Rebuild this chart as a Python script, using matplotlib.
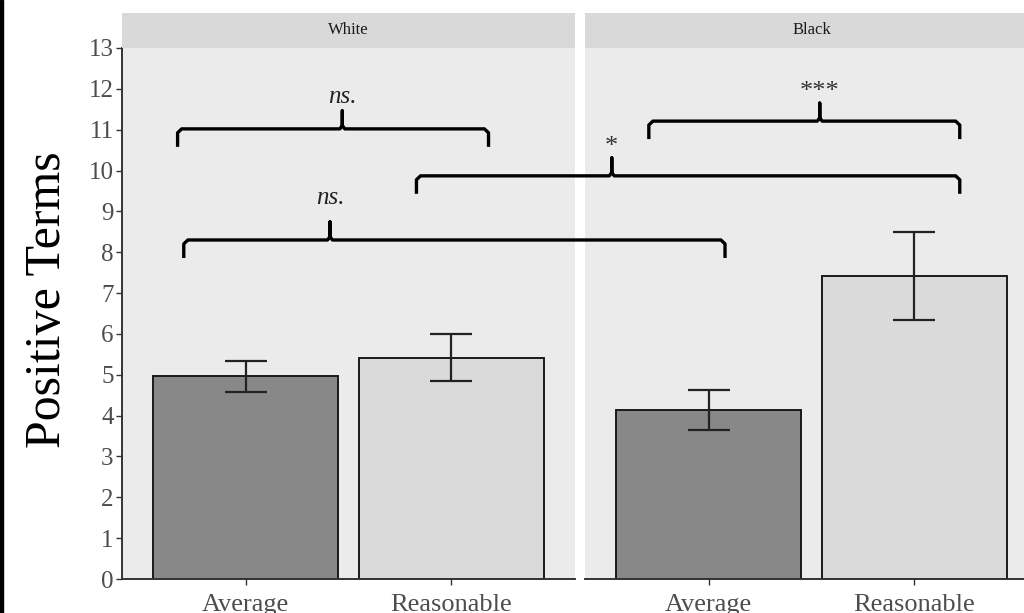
import matplotlib
matplotlib.use("Agg")
import matplotlib.pyplot as plt
from matplotlib.lines import Line2D
from matplotlib.patches import Rectangle

plt.rcParams['font.family'] = ['Liberation Serif', 'DejaVu Serif']

# data
panels = ["White", "Black"]
conditions = ["Average", "Reasonable"]
white_means = [4.97, 5.41]
white_lo = [4.58, 4.85]
white_hi = [5.34, 6.00]
black_means = [4.14, 7.42]
black_lo = [3.65, 6.34]
black_hi = [4.63, 8.49]

bar_colors = ["#888888", "#dadadb"]

# brackets: (left panel, left x, right panel, right x, tip panel, tip x, height, label, label gap)
brackets = [
    (0, 0.67, 0, 2.18, 0, 1.47, 11.02, "ns.", 0.2),
    (0, 1.83, 1, 2.22, 1, 0.53, 9.87, "*", 0.0),
    (1, 0.71, 1, 2.22, 1, 1.54, 11.21, "***", 0.0),
    (0, 0.70, 1, 1.08, 0, 1.41, 8.30, "ns.", 0.45),
]

W, H = 1024, 613
fig = plt.figure(figsize=(W / 100, H / 100), dpi=100)

def fx(px):
    return px / W

def fy(py):
    return 1 - py / H

panel_left = [122, 585]
panel_w = 453
top, bottom, strip_top = 48, 579, 13

axes = []
for i, name in enumerate(panels):
    ax = fig.add_axes([fx(panel_left[i]), fy(bottom), panel_w / W, (bottom - top) / H])
    ax.set_facecolor("#ebebeb")
    means = white_means if i == 0 else black_means
    lo = white_lo if i == 0 else black_lo
    hi = white_hi if i == 0 else black_hi
    xs = [1, 2]
    ax.bar(xs, means, width=0.9, color=bar_colors, edgecolor="#1a1a1a", linewidth=1.4, zorder=2)
    yerr = [[m - l for m, l in zip(means, lo)], [h - m for m, h in zip(means, hi)]]
    ax.errorbar(xs, means, yerr=yerr, fmt="none", ecolor="#222222", elinewidth=1.6,
                capsize=14.8, capthick=1.6, zorder=3)
    ax.set_xlim(0.4, 2.6)
    ax.set_ylim(0, 13)
    ax.set_xticks(xs)
    ax.set_xticklabels(conditions, fontsize=19, color="#4d4d4d")
    ax.tick_params(axis="x", length=4, width=1, color="#333333", pad=7)
    for s in ["top", "right"]:
        ax.spines[s].set_visible(False)
    ax.spines["bottom"].set_color("#333333")
    ax.spines["bottom"].set_linewidth(1.4)
    if i == 0:
        ax.set_yticks(range(0, 14))
        ax.tick_params(axis="y", labelsize=18, labelcolor="#4d4d4d", length=4, width=1,
                       color="#333333", pad=2)
        ax.spines["left"].set_color("#333333")
        ax.spines["left"].set_linewidth(1.4)
    else:
        ax.set_yticks([])
        ax.spines["left"].set_visible(False)
    # strip
    sax = fig.add_axes([fx(panel_left[i]), fy(top), panel_w / W, (top - strip_top) / H])
    sax.set_facecolor("#d9d9d9")
    sax.set_xticks([])
    sax.set_yticks([])
    for s in sax.spines.values():
        s.set_visible(False)
    sax.text(0.5, 0.5, name, ha="center", va="center", fontsize=12, color="#1a1a1a",
             transform=sax.transAxes)
    axes.append(ax)

inv = fig.transFigure.inverted()

def to_fig(panel, x, y):
    return inv.transform(axes[panel].transData.transform((x, y)))

drop = 0.44
tip = 0.44
for lp, lx, rp, rx, tp, tx, y, label, gap in brackets:
    p1 = to_fig(lp, lx, y - drop)
    p2 = to_fig(lp, lx, y)
    p3 = to_fig(rp, rx, y)
    p4 = to_fig(rp, rx, y - drop)
    t0 = to_fig(tp, tx, y)
    t1 = to_fig(tp, tx, y + tip)
    r = 0.004
    xs = [p1[0], p2[0], p2[0] + r, t0[0] - r * 0.6, t0[0], t1[0], t0[0], t0[0] + r * 0.6,
          p3[0] - r, p3[0], p4[0]]
    ys = [p1[1], p2[1] - r * 1.6, p2[1], t0[1], t0[1] + r * 1.4, t1[1], t0[1] + r * 1.4, t0[1],
          p3[1], p3[1] - r * 1.6, p4[1]]
    fig.add_artist(Line2D(xs, ys, color="black", linewidth=2.4, solid_joinstyle="round",
                          solid_capstyle="butt"))
    if label.startswith("ns"):
        lp_ = to_fig(tp, tx, y + tip + gap)
        fig.text(lp_[0], lp_[1], label, ha="center", va="baseline", fontsize=18,
                 style="italic", color="#222222")
    else:
        lp_ = to_fig(tp, tx, y + tip + gap)
        fig.text(lp_[0], lp_[1], label, ha="center", va="bottom", fontsize=19,
                 color="#333333")

fig.text(fx(48), fy(300), "Positive Terms", rotation=90, ha="center", va="center",
         fontsize=36, color="black")

fig.add_artist(Rectangle((0, 0), fx(3), 1, transform=fig.transFigure, color="black"))

fig.savefig("out.png", dpi=100)
